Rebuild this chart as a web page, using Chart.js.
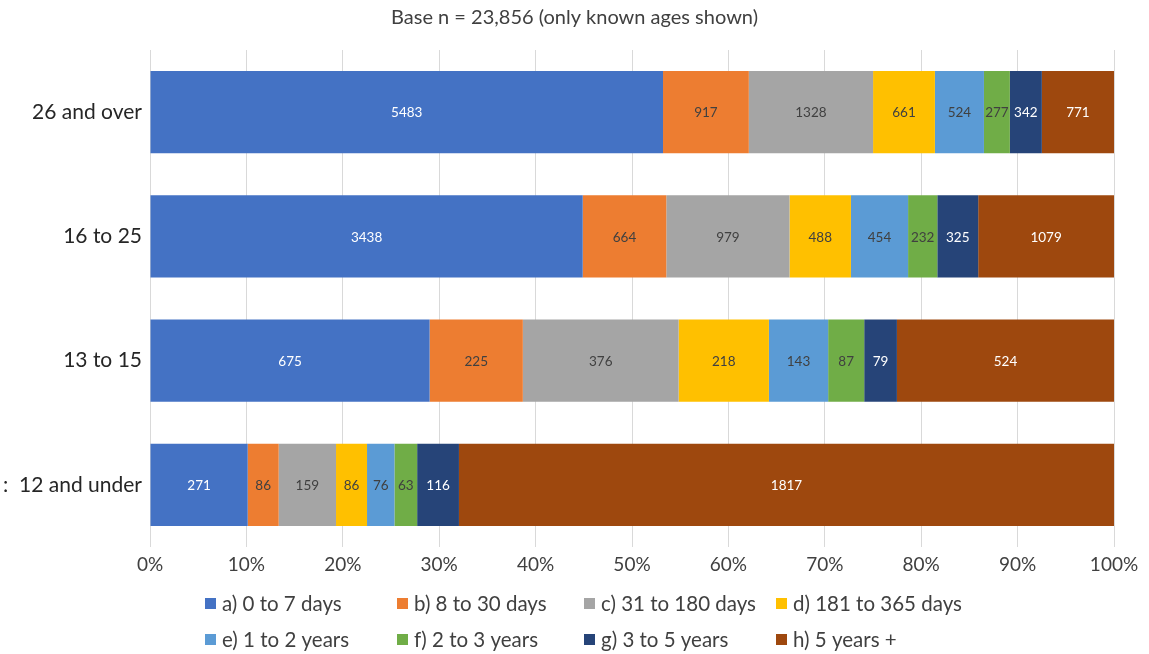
<!DOCTYPE html>
<html>
<head>
<meta charset="utf-8">
<script src="https://cdn.jsdelivr.net/npm/chart.js@4"></script>
<style>
  html, body { margin: 0; padding: 0; background: #fff; }
  #wrap { width: 1149px; height: 654px; }
</style>
</head>
<body>
<div id="wrap"><canvas id="ageChart" width="1149" height="654"></canvas></div>
<script>
// categories (top to bottom)
const ageGroups = ["26 and over", "16 to 25", "13 to 15", ":  12 and under"];
const seriesNames = ["a) 0 to 7 days", "b) 8 to 30 days", "c) 31 to 180 days", "d) 181 to 365 days",
                     "e) 1 to 2 years", "f) 2 to 3 years", "g) 3 to 5 years", "h) 5 years +"];
// counts per series, in ageGroups order
const days0to7     = [5483, 3438, 675, 271];
const days8to30    = [917, 664, 225, 86];
const days31to180  = [1328, 979, 376, 159];
const days181to365 = [661, 488, 218, 86];
const years1to2    = [524, 454, 143, 76];
const years2to3    = [277, 232, 87, 63];
const years3to5    = [342, 325, 79, 116];
const years5plus   = [771, 1079, 524, 1817];
const percentTicks = [0, 10, 20, 30, 40, 50, 60, 70, 80, 90, 100];
const chartTitle = "Base n = 23,856 (only known ages shown)";

const counts = [days0to7, days8to30, days31to180, days181to365, years1to2, years2to3, years3to5, years5plus];
const colors = ["#4472C4", "#ED7D31", "#A5A5A5", "#FFC000", "#5B9BD5", "#70AD47", "#264478", "#9E480E"];
const labelColors = ["#ffffff", "#404040", "#404040", "#404040", "#404040", "#404040", "#ffffff", "#ffffff"];

const FONT = "Lato, 'Open Sans', sans-serif";

// row totals so each bar adds up to 100%
const totals = ageGroups.map((_, i) => counts.reduce((s, arr) => s + arr[i], 0));

const datasets = counts.map((arr, k) => ({
    label: seriesNames[k],
    data: arr.map((v, i) => v / totals[i] * 100),
    raw: arr,
    backgroundColor: colors[k],
    borderWidth: 0,
    categoryPercentage: 1,
    barPercentage: 0.66
}));

// counts written inside each segment
const segmentLabels = {
    id: "segmentLabels",
    afterDatasetsDraw(chart) {
        const ctx = chart.ctx;
        ctx.save();
        ctx.font = "13.5px " + FONT;
        ctx.textAlign = "center";
        ctx.textBaseline = "middle";
        chart.data.datasets.forEach((ds, k) => {
            chart.getDatasetMeta(k).data.forEach((bar, i) => {
                ctx.fillStyle = labelColors[k];
                ctx.fillText(String(ds.raw[i]), (bar.x + bar.base) / 2, bar.y + 1);
            });
        });
        ctx.restore();
    }
};

// title centred on the whole canvas + two-row legend with fixed columns
const titleAndLegend = {
    id: "titleAndLegend",
    afterDraw(chart) {
        const ctx = chart.ctx;
        ctx.save();
        ctx.textBaseline = "middle";

        ctx.font = "20px " + FONT;
        ctx.textAlign = "center";
        ctx.fillStyle = "#404040";
        ctx.fillText(chartTitle, chart.width / 2, 18);

        const cols = [205, 397, 584, 776];
        const rows = [604, 640];
        ctx.font = "20.5px " + FONT;
        ctx.textAlign = "left";
        chart.data.datasets.forEach((ds, k) => {
            const x = cols[k % 4], y = rows[Math.floor(k / 4)];
            ctx.fillStyle = ds.backgroundColor;
            ctx.fillRect(x, y - 6, 11, 11);
            ctx.fillStyle = "#404040";
            ctx.fillText(ds.label, x + 17, y);
        });
        ctx.restore();
    }
};

new Chart(document.getElementById("ageChart").getContext("2d"), {
    type: "bar",
    data: { labels: ageGroups, datasets: datasets },
    options: {
        indexAxis: "y",
        responsive: false,
        animation: false,
        layout: { padding: { left: 0, right: 35, top: 50, bottom: 77 } },
        plugins: {
            legend: { display: false },
            tooltip: { enabled: false },
            title: { display: false }
        },
        scales: {
            x: {
                stacked: true,
                min: 0,
                max: 100,
                afterBuildTicks(axis) { axis.ticks = percentTicks.map(v => ({ value: v })); },
                afterFit(axis) { axis.height = 30; },
                grid: { color: "#d9d9d9", lineWidth: 1, drawTicks: false },
                border: { display: false },
                ticks: {
                    padding: 6,
                    color: "#404040",
                    font: { family: FONT, size: 19 },
                    callback: v => v + "%"
                }
            },
            y: {
                stacked: true,
                afterFit(axis) { axis.width = 150; },
                grid: { display: false, drawTicks: false },
                border: { display: false },
                ticks: {
                    padding: 8,
                    color: "#262626",
                    font: { family: FONT, size: 21 }
                }
            }
        }
    },
    plugins: [segmentLabels, titleAndLegend]
});
</script>
</body>
</html>
